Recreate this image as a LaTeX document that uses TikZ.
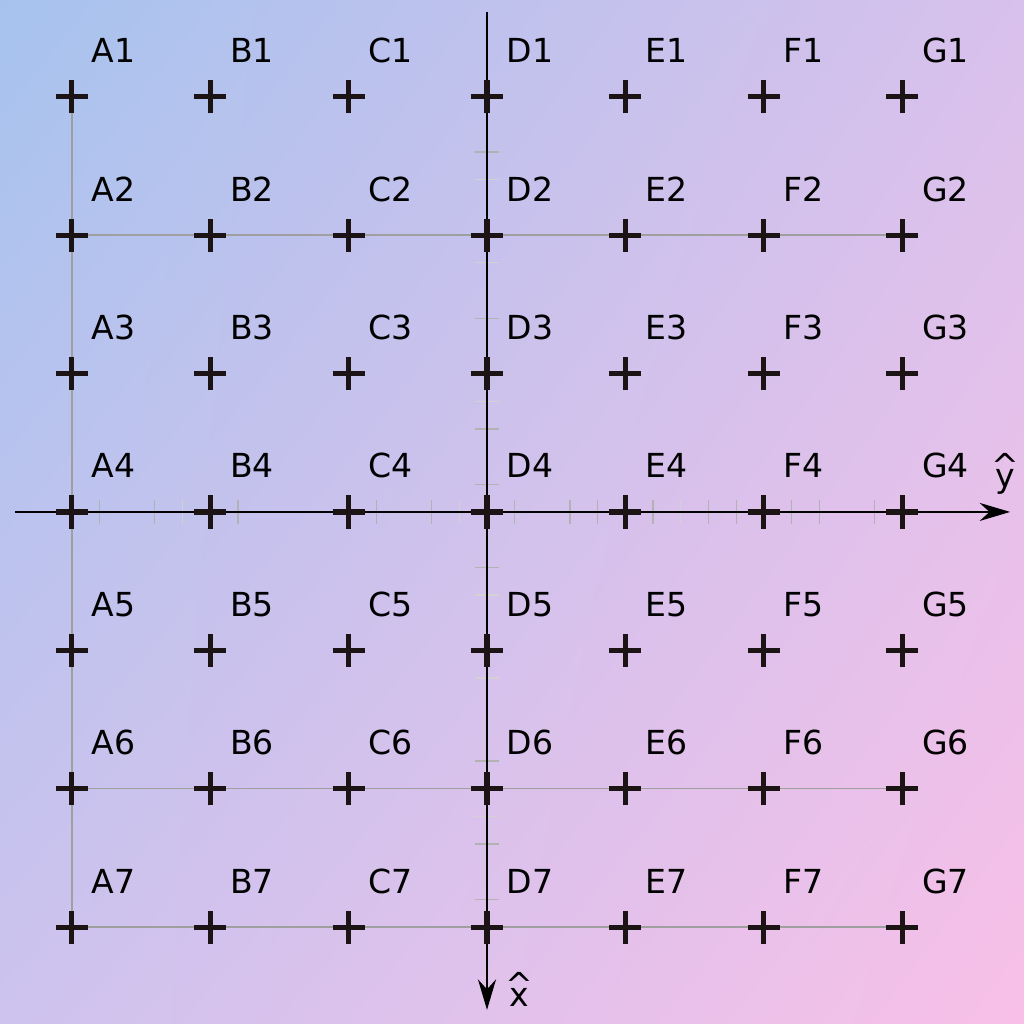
\documentclass[tikz,border=0pt]{standalone}
\usepackage{fontspec}
\setmainfont{DejaVu Sans}
\usetikzlibrary{arrows.meta,positioning,shadings}

\definecolor{bgblue}{HTML}{A6C3EE}
\definecolor{bgpink}{HTML}{F8C0E8}
\definecolor{bglav}{HTML}{D8C1EC}
\definecolor{bglavlow}{HTML}{CDC3EE}
\definecolor{crossink}{HTML}{1C1414}

\begin{document}
\begin{tikzpicture}[
    x=1cm, y=1cm,
    cross/.style={draw=crossink, line width=1.05pt},
    gridline/.style={draw=gray!75, line width=0.3pt},
    axis/.style={-{Stealth[length=2.2mm, width=1.3mm]}, line width=0.55pt, draw=black},
    axtick/.style={draw=gray!60, line width=0.25pt},
    axtickfaint/.style={draw=gray!35, line width=0.25pt},
    lbl/.style={anchor=base west, inner sep=0pt, font=\fontsize{6.8}{8}\selectfont},
    unitlbl/.style={lbl, anchor=south, align=center}
]

% ================= BACKGROUND =================
\useasboundingbox (-3.519,-3.699) rectangle (3.880,3.699);
\shade[upper left=bgblue, upper right=bglav, lower left=bglavlow, lower right=bgpink]
    (-3.519,-3.699) rectangle (3.880,3.699);

% ================= GRID POINTS =================
\foreach \c [count=\i from 0] in {A,B,C,D,E,F,G}
  \foreach \r in {1,...,7}
    \coordinate (\c\r) at (\i-3, 4-\r);

% ================= GUIDE LINES =================
\draw[gridline] (A2) -- (G2);
\draw[gridline] (A6) -- (G6);
\draw[gridline] (A7) -- (G7);
\draw[gridline] (A1) -- (A7);

% ================= AXES =================
\coordinate (yFrom) at (-3.41, 0);
\coordinate (yTo) at (3.78, 0);
\coordinate (xFrom) at (0, 3.613);
\coordinate (xTo) at (0, -3.598);

\foreach \t in {2.6,1.4,0.6,0.2,-0.4,-1.8,-2.4,-2.8}
  \draw[axtick] (-0.087,\t) -- (0.087,\t);
\foreach \t in {2.4,1.8,0.8,-0.6,-1.2,-2.2}
  \draw[axtickfaint] (-0.087,\t) -- (0.087,\t);
\foreach \t in {-2.8,-2.4,-1.8,-0.8,-0.4,0.2,0.6,0.8,1.2,1.6,1.8,2.2,2.4,2.8}
  \draw[axtick] (\t,-0.087) -- (\t,0.087);
\foreach \t in {-2.2,-0.2,1.4}
  \draw[axtickfaint] (\t,-0.087) -- (\t,0.087);

\draw[axis] (yFrom) -- (yTo);
\draw[axis] (xFrom) -- (xTo);

\node[unitlbl] (yhat) at (3.743, 0.123) {\textasciicircum\\[-5.97pt]y};
\node[unitlbl] (xhat) at (0.231, -3.577) {\textasciicircum\\[-5.97pt]x};

% ================= CROSSES & LABELS =================
\foreach \c in {A,B,C,D,E,F,G}
  \foreach \r in {1,...,7} {
    \draw[cross] ([xshift=-0.116cm]\c\r) -- ([xshift=0.116cm]\c\r)
                 ([yshift=-0.12cm]\c\r) -- ([yshift=0.12cm]\c\r);
    \node[lbl] (lbl\c\r) at ([xshift=0.137cm, yshift=0.246cm]\c\r) {\c\r};
  }

% heavier arms where the crosses sit on the axes
\foreach \r in {1,...,7}
  \draw[cross, line width=1.4pt] ([yshift=-0.12cm]D\r) -- ([yshift=0.12cm]D\r);
\foreach \c in {A,B,C,D,E,F,G}
  \draw[cross, line width=1.4pt] ([xshift=-0.116cm]\c4) -- ([xshift=0.116cm]\c4);

\end{tikzpicture}
\end{document}
